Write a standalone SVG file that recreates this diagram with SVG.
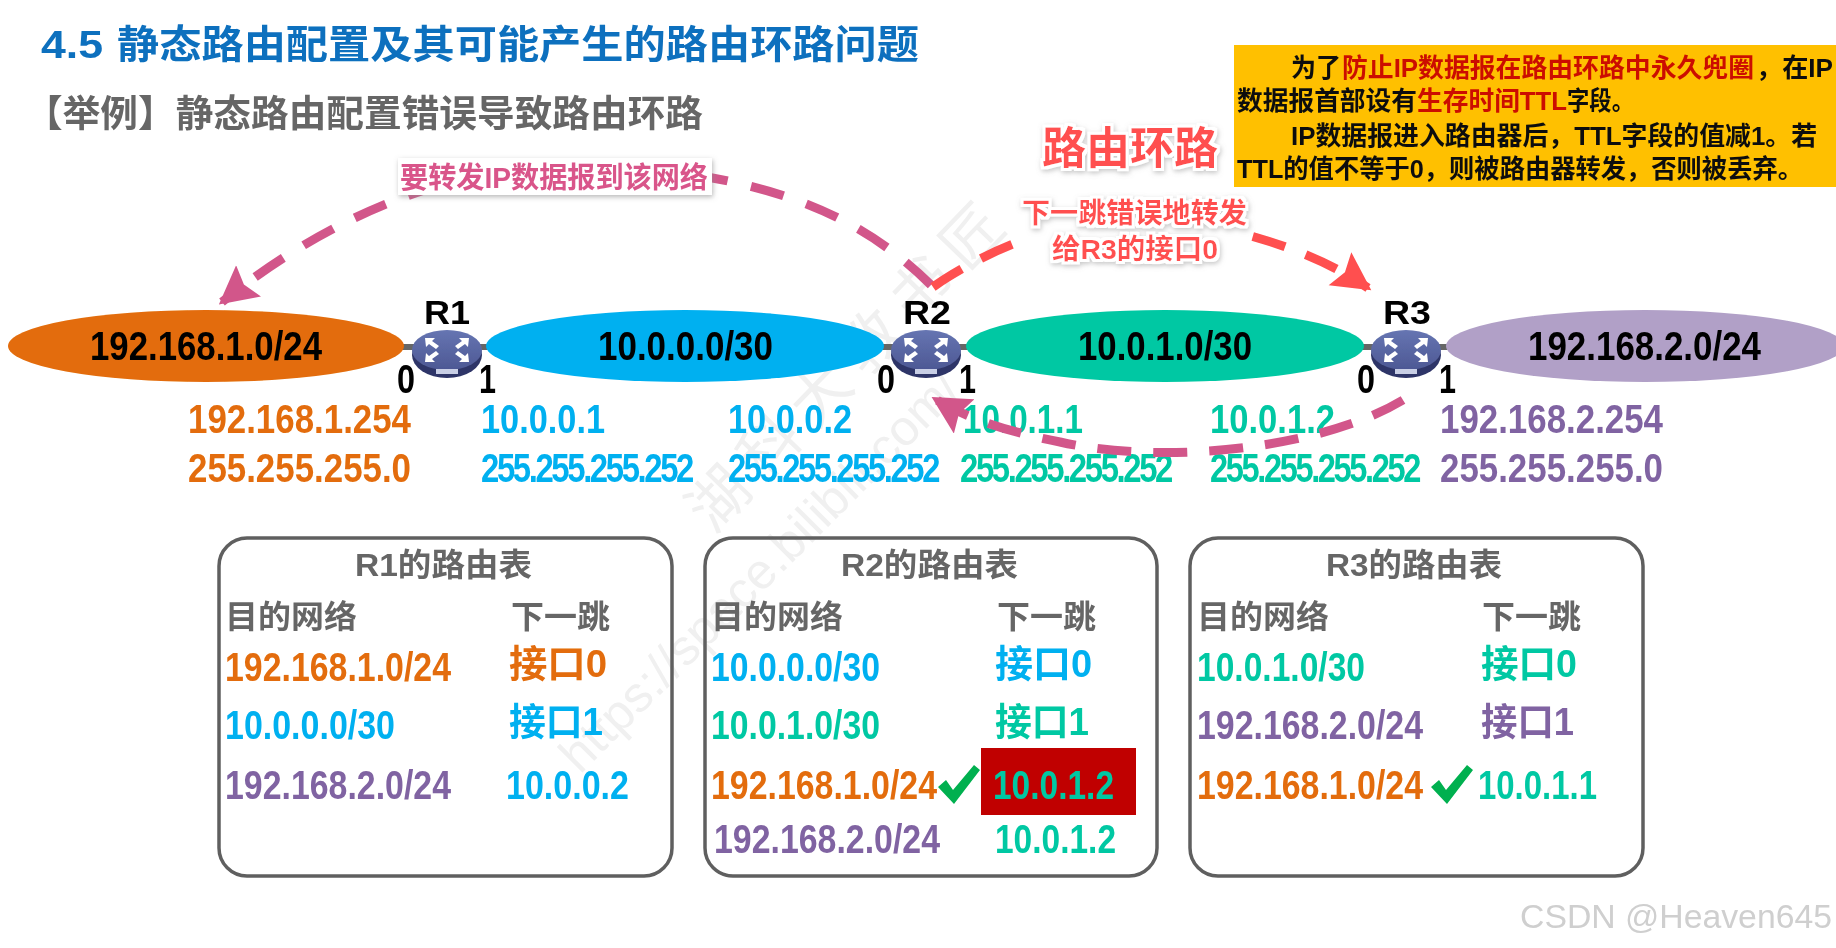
<svg xmlns="http://www.w3.org/2000/svg" width="1836" height="948" viewBox="0 0 1836 948">
<style>
text{font-family:"Liberation Sans","Noto Sans CJK SC",sans-serif;font-weight:700}
.ip{font-size:41px}
.mask{letter-spacing:-3px}
.net{font-size:41px;fill:#000}
.hd{font-size:32px;fill:#666}
.lab{font-size:34px;fill:#000}
.num{font-size:41px;fill:#000}
.note{font-size:26px;fill:#111}
.r{fill:#cc1100}
.or{fill:#e36c0a}.bl{fill:#00b0f0}.te{fill:#00c8a3}.pu{fill:#8064a2}
.arc{fill:none;stroke-width:9}
.box{fill:none;stroke:#5f5f5f;stroke-width:3.5}
.link{stroke:#666;stroke-width:6}
.wm{fill:#f0f0f0;font-weight:400}
</style>
<defs>
<filter id="soft" x="-2%" y="-2%" width="104%" height="104%"><feGaussianBlur stdDeviation="0.7"/></filter>
<filter id="halo" x="-15%" y="-25%" width="130%" height="150%">
<feMorphology in="SourceAlpha" operator="dilate" radius="3" result="d"/>
<feGaussianBlur in="d" stdDeviation="2.5" result="b"/>
<feOffset in="b" dx="1" dy="2" result="o"/>
<feFlood flood-color="#999" flood-opacity="0.55"/><feComposite in2="o" operator="in" result="s"/>
<feFlood flood-color="#fff"/><feComposite in2="d" operator="in" result="w"/>
<feMerge><feMergeNode in="s"/><feMergeNode in="w"/><feMergeNode in="SourceGraphic"/></feMerge>
</filter>
<filter id="shadow" x="-10%" y="-30%" width="120%" height="170%">
<feDropShadow dx="1" dy="2" stdDeviation="2.5" flood-color="#888" flood-opacity="0.6"/>
</filter>
<marker id="hp" markerUnits="userSpaceOnUse" markerWidth="44" markerHeight="44" refX="34" refY="20" orient="auto"><path d="M0 0L38 20L0 40L6 20Z" fill="#d2578a"/></marker>
<marker id="hr" markerUnits="userSpaceOnUse" markerWidth="44" markerHeight="44" refX="34" refY="20" orient="auto"><path d="M0 0L38 20L0 40L6 20Z" fill="#ff4f4f"/></marker>
<linearGradient id="rg" x1="0" y1="0" x2="0" y2="1"><stop offset="0" stop-color="#6675b2"/><stop offset="1" stop-color="#4d5894"/></linearGradient>
<g id="router">
<ellipse cx="0" cy="3" rx="35" ry="23" fill="#2f3668"/>
<ellipse cx="0" cy="-2" rx="35" ry="20" fill="url(#rg)"/>
<path d="M-22 -14h10l-3 3 7 5-3 3-7-5-3 3zM22 -14h-10l3 3-7 5 3 3 7-5 3 3zM-22 10h10l-3-3 7-5-3-3-7 5-3-3zM22 10h-10l3-3-7-5 3-3 7 5 3-3z" fill="#fff"/>
<rect x="-11" y="17" width="22" height="5" fill="#c9cfe6"/>
</g>
<path id="chk" d="M0 14L8 7L15 17L36 -8L42 -3L16 31Z" fill="#00b050"/>
</defs>
<rect width="1836" height="948" fill="#fff"/>
<g filter="url(#soft)">
<g id="watermark">
<text class="wm" font-size="50" transform="translate(580 775) rotate(-45)">https://space.bilibili.com/</text>
<text class="wm" font-size="60" letter-spacing="13" transform="translate(713 535) rotate(-46)">湖科大教书匠</text>
</g>
<g id="heading">
<text x="41" y="58" font-size="39" fill="#0b6fbe" textLength="62" lengthAdjust="spacingAndGlyphs">4.5</text>
<text x="117" y="58" font-size="39" fill="#0b6fbe" textLength="802" lengthAdjust="spacingAndGlyphs">静态路由配置及其可能产生的路由环路问题</text>
<text x="25" y="127" font-size="37" fill="#666" textLength="678" lengthAdjust="spacingAndGlyphs">【举例】静态路由配置错误导致路由环路</text>
</g>
<g id="note">
<rect x="1234" y="45" width="602" height="142" fill="#ffc000"/>
<text class="note" x="1291" y="77" textLength="50" lengthAdjust="spacingAndGlyphs">为了</text>
<text class="note r" x="1342" y="77" textLength="412" lengthAdjust="spacingAndGlyphs" style="fill:#cc1100">防止IP数据报在路由环路中永久兜圈</text>
<text class="note" x="1756" y="77" textLength="77" lengthAdjust="spacingAndGlyphs">，在IP</text>
<text class="note" x="1237" y="110" textLength="180" lengthAdjust="spacingAndGlyphs">数据报首部设有</text>
<text class="note r" x="1417" y="110" textLength="150" lengthAdjust="spacingAndGlyphs" style="fill:#cc1100">生存时间TTL</text>
<text class="note" x="1567" y="110" textLength="67" lengthAdjust="spacingAndGlyphs">字段。</text>
<text class="note" x="1291" y="145" textLength="526" lengthAdjust="spacingAndGlyphs">IP数据报进入路由器后，TTL字段的值减1。若</text>
<text class="note" x="1237" y="178" textLength="566" lengthAdjust="spacingAndGlyphs">TTL的值不等于0，则被路由器转发，否则被丢弃。</text>
</g>
<g id="links">
<line class="link" x1="400" y1="347" x2="490" y2="347"/>
<line class="link" x1="880" y1="347" x2="970" y2="347"/>
<line class="link" x1="1360" y1="347" x2="1450" y2="347"/>
</g>
<g id="net1"><ellipse cx="206" cy="346" rx="198" ry="36" fill="#e36c09"/><text class="net" x="90" y="360" textLength="232" lengthAdjust="spacingAndGlyphs">192.168.1.0/24</text></g>
<g id="net2"><ellipse cx="685" cy="346" rx="199" ry="36" fill="#00b0f0"/><text class="net" x="598" y="360" textLength="175" lengthAdjust="spacingAndGlyphs">10.0.0.0/30</text></g>
<g id="net3"><ellipse cx="1165" cy="346" rx="199" ry="36" fill="#00c8a3"/><text class="net" x="1078" y="360" textLength="174" lengthAdjust="spacingAndGlyphs">10.0.1.0/30</text></g>
<g id="net4"><ellipse cx="1645" cy="346" rx="199" ry="36" fill="#b1a0c7"/><text class="net" x="1528" y="360" textLength="233" lengthAdjust="spacingAndGlyphs">192.168.2.0/24</text></g>
<g id="R1"><use href="#router" x="447" y="352"/><text class="lab" x="424" y="324" textLength="46" lengthAdjust="spacingAndGlyphs">R1</text><text class="num" x="397" y="393" textLength="18" lengthAdjust="spacingAndGlyphs">0</text><text class="num" x="479" y="393" textLength="17" lengthAdjust="spacingAndGlyphs">1</text></g>
<g id="R2"><use href="#router" x="926" y="352"/><text class="lab" x="903" y="324" textLength="48" lengthAdjust="spacingAndGlyphs">R2</text><text class="num" x="877" y="393" textLength="18" lengthAdjust="spacingAndGlyphs">0</text><text class="num" x="959" y="393" textLength="17" lengthAdjust="spacingAndGlyphs">1</text></g>
<g id="R3"><use href="#router" x="1406" y="352"/><text class="lab" x="1383" y="324" textLength="48" lengthAdjust="spacingAndGlyphs">R3</text><text class="num" x="1357" y="393" textLength="18" lengthAdjust="spacingAndGlyphs">0</text><text class="num" x="1439" y="393" textLength="17" lengthAdjust="spacingAndGlyphs">1</text></g>
<g id="addresses">
<text class="ip or" x="188" y="433" textLength="223" lengthAdjust="spacingAndGlyphs">192.168.1.254</text>
<text class="ip or" x="188" y="482" textLength="223" lengthAdjust="spacingAndGlyphs">255.255.255.0</text>
<text class="ip bl" x="481" y="433" textLength="124" lengthAdjust="spacingAndGlyphs">10.0.0.1</text>
<text class="ip bl mask" x="481" y="482" textLength="211" lengthAdjust="spacingAndGlyphs">255.255.255.252</text>
<text class="ip bl" x="728" y="433" textLength="124" lengthAdjust="spacingAndGlyphs">10.0.0.2</text>
<text class="ip bl mask" x="728" y="482" textLength="210" lengthAdjust="spacingAndGlyphs">255.255.255.252</text>
<text class="ip te" x="963" y="433" textLength="120" lengthAdjust="spacingAndGlyphs">10.0.1.1</text>
<text class="ip te mask" x="960" y="482" textLength="211" lengthAdjust="spacingAndGlyphs">255.255.255.252</text>
<text class="ip te" x="1210" y="433" textLength="125" lengthAdjust="spacingAndGlyphs">10.0.1.2</text>
<text class="ip te mask" x="1210" y="482" textLength="209" lengthAdjust="spacingAndGlyphs">255.255.255.252</text>
<text class="ip pu" x="1440" y="433" textLength="223" lengthAdjust="spacingAndGlyphs">192.168.2.254</text>
<text class="ip pu" x="1440" y="482" textLength="223" lengthAdjust="spacingAndGlyphs">255.255.255.0</text>
</g>
<g id="connectors">
<path class="arc" stroke="#d2578a" stroke-dasharray="34 24" marker-end="url(#hp)" d="M931 285C860 215 770 175 600 165C480 160 350 200 222 302"/>
<path class="arc" stroke="#ff4f4f" stroke-dasharray="34 22" marker-end="url(#hr)" d="M933 287C1000 240 1100 205 1190 222C1260 235 1320 255 1368 288"/>
<path class="arc" stroke="#d2578a" stroke-dasharray="34 22" marker-end="url(#hp)" d="M1403 400C1320 450 1160 465 1060 442C1010 432 970 420 935 399"/>
</g>
<g id="label-forward">
<rect x="398" y="158" width="314" height="37" fill="#fff" filter="url(#shadow)"/>
<text x="400" y="188" font-size="29" fill="#d9558a" textLength="308" lengthAdjust="spacingAndGlyphs">要转发IP数据报到该网络</text>
</g>
<g id="label-loop">
<text x="1042" y="164" font-size="44" fill="#ff4f4f" filter="url(#halo)" textLength="176" lengthAdjust="spacingAndGlyphs">路由环路</text>
<rect x="1024" y="196" width="224" height="72" fill="#fff"/>
<text x="1022" y="223" font-size="28" fill="#ff4f4f" filter="url(#halo)" textLength="225" lengthAdjust="spacingAndGlyphs">下一跳错误地转发</text>
<text x="1052" y="259" font-size="28" fill="#ff4f4f" filter="url(#halo)" textLength="166" lengthAdjust="spacingAndGlyphs">给R3的接口0</text>
</g>
<g id="table-R1" transform="translate(0 1)">
<rect class="box" x="219" y="537" width="453" height="338" rx="28"/>
<text class="hd" x="355" y="575" textLength="177" lengthAdjust="spacingAndGlyphs">R1的路由表</text>
<text class="hd" x="225" y="627" textLength="132" lengthAdjust="spacingAndGlyphs">目的网络</text>
<text class="hd" x="511" y="627" textLength="99" lengthAdjust="spacingAndGlyphs">下一跳</text>
<text class="ip or" x="225" y="680" textLength="226" lengthAdjust="spacingAndGlyphs">192.168.1.0/24</text>
<text class="ip or" x="509" y="676" style="font-size:38px" textLength="98" lengthAdjust="spacingAndGlyphs">接口0</text>
<text class="ip bl" x="225" y="738" textLength="170" lengthAdjust="spacingAndGlyphs">10.0.0.0/30</text>
<text class="ip bl" x="509" y="734" style="font-size:38px" textLength="94" lengthAdjust="spacingAndGlyphs">接口1</text>
<text class="ip pu" x="225" y="798" textLength="226" lengthAdjust="spacingAndGlyphs">192.168.2.0/24</text>
<text class="ip bl" x="506" y="798" textLength="123" lengthAdjust="spacingAndGlyphs">10.0.0.2</text>
</g>
<g id="table-R2" transform="translate(0 1)">
<rect class="box" x="705" y="537" width="452" height="338" rx="28"/>
<text class="hd" x="841" y="575" textLength="177" lengthAdjust="spacingAndGlyphs">R2的路由表</text>
<text class="hd" x="711" y="627" textLength="132" lengthAdjust="spacingAndGlyphs">目的网络</text>
<text class="hd" x="997" y="627" textLength="99" lengthAdjust="spacingAndGlyphs">下一跳</text>
<text class="ip bl" x="711" y="680" textLength="169" lengthAdjust="spacingAndGlyphs">10.0.0.0/30</text>
<text class="ip bl" x="995" y="676" style="font-size:38px" textLength="97" lengthAdjust="spacingAndGlyphs">接口0</text>
<text class="ip te" x="711" y="738" textLength="169" lengthAdjust="spacingAndGlyphs">10.0.1.0/30</text>
<text class="ip te" x="995" y="734" style="font-size:38px" textLength="94" lengthAdjust="spacingAndGlyphs">接口1</text>
<text class="ip or" x="711" y="798" textLength="226" lengthAdjust="spacingAndGlyphs">192.168.1.0/24</text>
<use href="#chk" x="938" y="772"/>
<rect x="981" y="747" width="155" height="67" fill="#c00000"/>
<text class="ip te" x="993" y="798" textLength="121" lengthAdjust="spacingAndGlyphs">10.0.1.2</text>
<text class="ip pu" x="714" y="852" textLength="226" lengthAdjust="spacingAndGlyphs">192.168.2.0/24</text>
<text class="ip te" x="995" y="852" textLength="121" lengthAdjust="spacingAndGlyphs">10.0.1.2</text>
</g>
<g id="table-R3" transform="translate(0 1)">
<rect class="box" x="1190" y="537" width="453" height="338" rx="28"/>
<text class="hd" x="1326" y="575" textLength="176" lengthAdjust="spacingAndGlyphs">R3的路由表</text>
<text class="hd" x="1197" y="627" textLength="132" lengthAdjust="spacingAndGlyphs">目的网络</text>
<text class="hd" x="1482" y="627" textLength="99" lengthAdjust="spacingAndGlyphs">下一跳</text>
<text class="ip te" x="1197" y="680" textLength="168" lengthAdjust="spacingAndGlyphs">10.0.1.0/30</text>
<text class="ip te" x="1481" y="676" style="font-size:38px" textLength="96" lengthAdjust="spacingAndGlyphs">接口0</text>
<text class="ip pu" x="1197" y="738" textLength="226" lengthAdjust="spacingAndGlyphs">192.168.2.0/24</text>
<text class="ip pu" x="1481" y="734" style="font-size:38px" textLength="93" lengthAdjust="spacingAndGlyphs">接口1</text>
<text class="ip or" x="1197" y="798" textLength="226" lengthAdjust="spacingAndGlyphs">192.168.1.0/24</text>
<use href="#chk" x="1431" y="772"/>
<text class="ip te" x="1478" y="798" textLength="119" lengthAdjust="spacingAndGlyphs">10.0.1.1</text>
</g>
<text id="credit" x="1520" y="928" font-size="33" fill="#cfcfcf" style="font-weight:400" textLength="312" lengthAdjust="spacingAndGlyphs">CSDN @Heaven645</text>
</g>
</svg>
